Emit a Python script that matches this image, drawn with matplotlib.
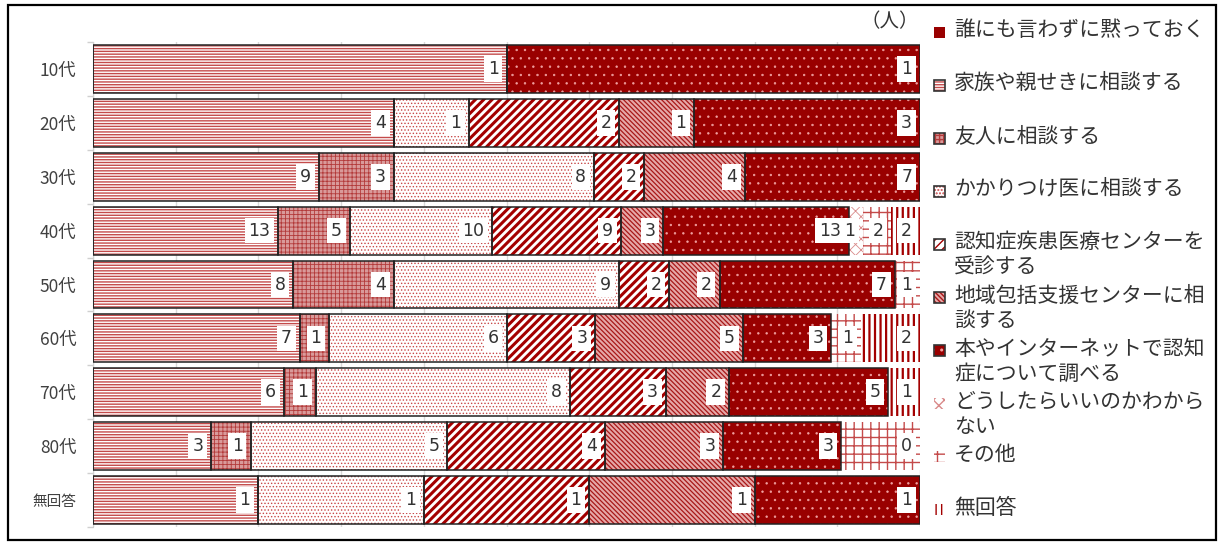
import matplotlib
matplotlib.use("Agg")
import matplotlib.pyplot as plt
import matplotlib.patches as mpatches
import numpy as np

plt.rcParams['font.family'] = ['Noto Sans CJK JP', 'DejaVu Sans']

# age groups, top to bottom
groups = ["10代", "20代", "30代", "40代", "50代", "60代", "70代", "80代", "無回答"]

series = [
    "誰にも言わずに黙っておく",
    "家族や親せきに相談する",
    "友人に相談する",
    "かかりつけ医に相談する",
    "認知症疾患医療センターを\n受診する",
    "地域包括支援センターに相\n談する",
    "本やインターネットで認知\n症について調べる",
    "どうしたらいいのかわから\nない",
    "その他",
    "無回答",
]

# counts per group (None = blank cell)
damatte   = [None, None, None, None, None, None, None, None, None]
kazoku    = [1, 4, 9, 13, 8, 7, 6, 3, 1]
yujin     = [None, None, 3, 5, 4, 1, 1, 1, None]
kakari    = [None, 1, 8, 10, 9, 6, 8, 5, 1]
ninchi    = [None, 2, 2, 9, 2, 3, 3, 4, 1]
chiiki    = [None, 1, 4, 3, 2, 5, 2, 3, 1]
hon       = [1, 3, 7, 13, 7, 3, 5, 3, 1]
doushitara = [None, None, None, 1, None, None, None, None, None]
sonota    = [None, None, None, 2, 1, 1, None, 2, None]
mukaitou  = [None, None, None, 2, None, 2, 1, 0, None]

data = [damatte, kazoku, yujin, kakari, ninchi, chiiki, hon, doushitara, sonota, mukaitou]

DARK = "#990000"
# face, hatch, hatch colour, hatch linewidth, outline
styles = [
    (DARK, None, DARK, 1.0, True),
    ("white", "------", "#c44a4a", 1.0, True),
    ("#d99a9a", "++++", "#b33a3a", 0.6, True),
    ("white", ".....", "#c84848", 0.6, True),
    ("white", "////", "#a30000", 2.2, True),
    ("#e6a8a8", "\\\\\\\\\\\\\\", "#a81818", 0.9, True),
    (DARK, "..", "#f0a0a0", 0.5, True),
    ("white", "xxx", "#d98a8a", 0.6, False),
    ("white", "++", "#c44a4a", 1.0, False),
    ("white", "|||", "#a30000", 1.6, False),
]

vals = np.array([[0 if v is None else v for v in s] for s in data], dtype=float)
totals = vals.sum(axis=0)
pct = vals / totals * 100

fig = plt.figure(figsize=(12.19, 5.42), dpi=100)
ax = fig.add_axes([93 / 1219, 1 - 527 / 542, 827 / 1219, 485 / 542])

y = np.arange(len(groups))
left = np.zeros(len(groups))
for i, (face, hatch, hcol, hlw, outline) in enumerate(styles):
    w = pct[i]
    ax.barh(y, w, left=left, height=0.89, color=face, linewidth=0, zorder=2)
    if hatch:
        with plt.rc_context({'hatch.linewidth': hlw}):
            ax.barh(y, w, left=left, height=0.89, color="none", edgecolor=hcol,
                    hatch=hatch, linewidth=0, zorder=3)
    if outline:
        ax.barh(y, w, left=left, height=0.89, color="none", edgecolor="#222222",
                linewidth=1.1, zorder=4)
    left = left + w

# count labels at the inside end of each segment
left = np.zeros(len(groups))
for i in range(len(series)):
    for j in range(len(groups)):
        v = data[i][j]
        end = left[j] + pct[i][j]
        if v is not None:
            ax.text(end - 0.95, y[j], str(v), ha="right", va="center", fontsize=12.5,
                    family="DejaVu Sans", color="#333333", zorder=6,
                    bbox=dict(boxstyle="square,pad=0.22", fc="white", ec="none"))
    left = left + pct[i]

ax.set_xlim(0, 100)
ax.set_ylim(len(groups) - 0.5, -0.5)
ax.set_xticks(np.arange(0, 101, 10))
ax.set_xticklabels([])
ax.tick_params(axis="x", length=0)
ax.grid(axis="x", color="#d9d9d9", linewidth=1, zorder=0)
ax.set_axisbelow(True)

ax.set_yticks(np.arange(-0.5, len(groups), 1), minor=False)
ax.set_yticklabels([])
ax.tick_params(axis="y", length=4, color="#d0d0d0", width=1)
ax.set_yticks(y, minor=True)
ax.set_yticklabels(groups, minor=True)
ax.tick_params(axis="y", which="minor", length=0, pad=12, labelsize=12.5, labelcolor="#404040")
for lbl in ax.get_yticklabels(minor=True):
    if lbl.get_text() == "無回答":
        lbl.set_fontsize(10.5)

for s in ["top", "right", "bottom"]:
    ax.spines[s].set_visible(False)
ax.spines["left"].set_color("#d0d0d0")

fig.text(919 / 1219, 1 - 22 / 542, "（人）", ha="right", va="center", fontsize=14, color="#333333")

# legend drawn by hand
for k, name in enumerate(series):
    yc = 32 + k * 53.1
    face, hatch, hcol, hlw, outline = styles[k]
    box_y = 1 - (yc + 5.5) / 542
    fig.patches.append(mpatches.Rectangle((934 / 1219, box_y), 11 / 1219, 11 / 542,
                                          transform=fig.transFigure, facecolor=face,
                                          edgecolor="none", linewidth=0))
    if hatch:
        fig.patches.append(mpatches.Rectangle((934 / 1219, box_y), 11 / 1219, 11 / 542,
                                              transform=fig.transFigure, facecolor="none",
                                              edgecolor=hcol, hatch=hatch, linewidth=0))
    if outline and k > 0:
        fig.patches.append(mpatches.Rectangle((934 / 1219, box_y), 11 / 1219, 11 / 542,
                                              transform=fig.transFigure, facecolor="none",
                                              edgecolor="#333333", linewidth=1.2))
    fig.text(954 / 1219, 1 - (yc - 13) / 542, name, ha="left", va="top", fontsize=15,
             color="#333333", linespacing=1.2)

# outer frame
fig.patches.append(mpatches.Rectangle((8 / 1219, 2 / 542), 1208 / 1219, 535 / 542,
                                      transform=fig.transFigure, facecolor="none",
                                      edgecolor="black", linewidth=1.6))

fig.savefig("out.png", dpi=100)
